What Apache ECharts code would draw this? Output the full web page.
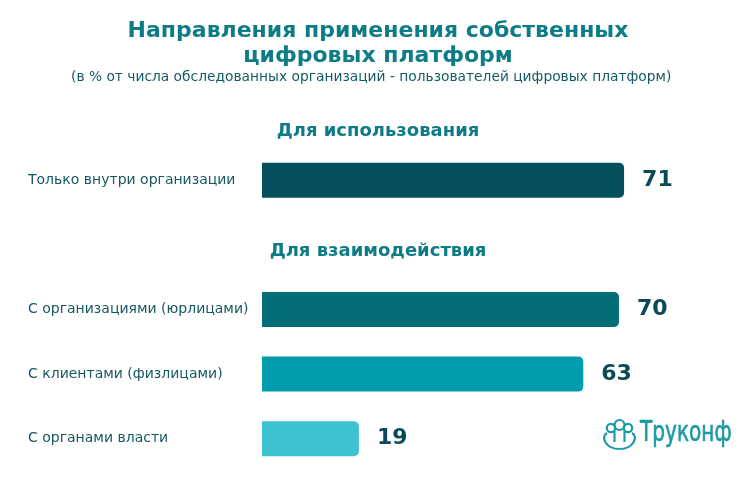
<!DOCTYPE html>
<html>
<head>
<meta charset="utf-8">
<script src="https://cdn.jsdelivr.net/npm/echarts@6/dist/echarts.min.js"></script>
<style>html,body{margin:0;padding:0;background:#fff;}#c{width:756px;height:487px;}</style>
</head>
<body>
<div id="c"></div>
<script>
const categories = ['Только внутри организации', '', 'С организациями (юрлицами)', 'С клиентами (физлицами)', 'С органами власти'];
const values = [71, null, 70, 63, 19];
const barColors = ['#03505c', null, '#036e78', '#019dae', '#3fc2d0'];
const titleText = 'Направления применения собственных\nцифровых платформ';
const subtitleText = '(в % от числа обследованных организаций - пользователей цифровых платформ)';
const sectionHeaders = ['Для использования', 'Для взаимодействия'];
const brandName = 'Труконф';

const FONT = 'DejaVu Sans';
const chart = echarts.init(document.getElementById('c'), null, {renderer: 'canvas'});
const teal = '#0e7c86';
const logoColor = '#1a9aa5';
const st = {fill: 'none', stroke: logoColor, lineWidth: 2.2};

chart.setOption({
  animation: false,
  backgroundColor: '#ffffff',
  title: {
    text: titleText,
    left: 'center',
    top: 14,
    textStyle: {fontFamily: FONT, fontSize: 22, fontWeight: 'bold', color: teal, lineHeight: 25, align: 'center'}
  },
  grid: {left: 262, right: 35, top: 148, bottom: 16, containLabel: false},
  xAxis: {type: 'value', min: 0, max: 90, show: false},
  yAxis: {
    type: 'category', data: categories, inverse: true,
    axisLine: {show: false}, axisTick: {show: false},
    axisLabel: {align: 'left', margin: 234, fontFamily: FONT, fontSize: 14, color: '#165862'}
  },
  series: [{
    type: 'bar',
    barWidth: 35,
    data: values.map((v, i) => v == null ? '-' : {value: v, itemStyle: {color: barColors[i]}}),
    itemStyle: {borderRadius: [0, 5, 5, 0]},
    label: {show: true, position: 'right', distance: 18, fontFamily: FONT, fontSize: 22, fontWeight: 'bold', color: '#0a4a56'}
  }],
  graphic: [
    {type: 'text', x: 71, y: 70, style: {text: subtitleText, font: '13.8px "DejaVu Sans"', fill: '#145a66'}},
    {type: 'text', left: 'center', top: 122, style: {text: sectionHeaders[0], font: 'bold 18px "DejaVu Sans"', fill: teal}},
    {type: 'text', left: 'center', top: 242, style: {text: sectionHeaders[1], font: 'bold 18px "DejaVu Sans"', fill: teal}},
    {type: 'text', x: 640, y: 419, scaleX: 0.77, style: {text: brandName, font: '29px "DejaVu Sans Condensed"', fill: logoColor, stroke: logoColor, lineWidth: 0.6}},
    {type: 'group', x: 603, y: 419, children: [
      {type: 'circle', shape: {cx: 8, cy: 9, r: 4.2}, style: st},
      {type: 'circle', shape: {cx: 16.5, cy: 6, r: 5}, style: st},
      {type: 'circle', shape: {cx: 25, cy: 9, r: 4.2}, style: st},
      {type: 'bezierCurve', shape: {x1: 4, y1: 14, x2: 16.5, y2: 30, cpx1: -3, cpy1: 18, cpx2: 3, cpy2: 30}, style: st},
      {type: 'bezierCurve', shape: {x1: 29, y1: 14, x2: 16.5, y2: 30, cpx1: 36, cpy1: 18, cpx2: 30, cpy2: 30}, style: st},
      {type: 'line', shape: {x1: 11.5, y1: 12, x2: 11.5, y2: 23}, style: st},
      {type: 'line', shape: {x1: 21.5, y1: 12, x2: 21.5, y2: 23}, style: st}
    ]}
  ]
});
</script>
</body>
</html>
